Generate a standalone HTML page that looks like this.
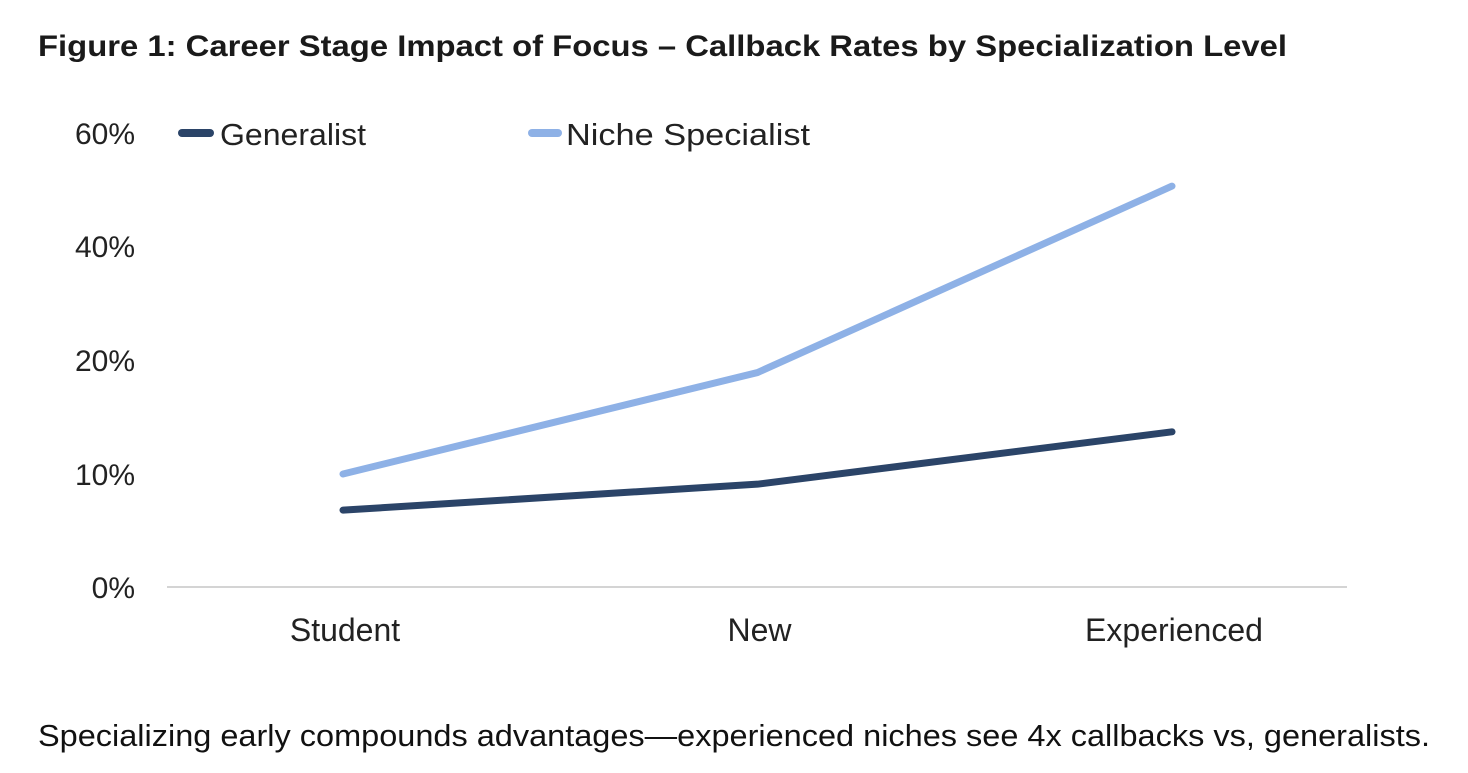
<!DOCTYPE html>
<html><head><meta charset="utf-8"><style>
body{margin:0;background:#fff;width:1468px;height:768px;overflow:hidden;font-family:"Liberation Sans",sans-serif}
</style></head><body>
<svg width="1468" height="768">
<text x="38" y="56" font-size="30" font-weight="bold" fill="#1a1a1a" textLength="1249" lengthAdjust="spacingAndGlyphs">Figure 1: Career Stage Impact of Focus – Callback Rates by Specialization Level</text>
<g>
<line x1="182" y1="133" x2="210" y2="133" stroke="#2b4468" stroke-width="8" stroke-linecap="round"/>
<text x="220" y="145" font-size="31" fill="#222" textLength="146" lengthAdjust="spacingAndGlyphs">Generalist</text>
<line x1="532" y1="133" x2="558" y2="133" stroke="#8eb1e6" stroke-width="8" stroke-linecap="round"/>
<text x="566" y="145" font-size="31" fill="#222" textLength="244" lengthAdjust="spacingAndGlyphs">Niche Specialist</text>
</g>
<g id="yaxis"></g>
<line x1="167" y1="587" x2="1347" y2="587" stroke="#d4d4d4" stroke-width="2"/>
<g id="xaxis"></g>
<g id="series"></g>
<text x="38" y="746" font-size="31" fill="#111" textLength="1392" lengthAdjust="spacingAndGlyphs">Specializing early compounds advantages—experienced niches see 4x callbacks vs, generalists.</text>
</svg>
<script>
const categories=["Student","New","Experienced"];
const generalist=[6.8,9.1,13.7];
const niche=[10,18.9,50.6];
const tickValues=[0,10,20,40,60];
const tickLabels=["0%","10%","20%","40%","60%"];
const NS="http://www.w3.org/2000/svg";
const tickPos=[587,474,360,246,133];
function y(v){
  for(let i=0;i<tickValues.length-1;i++){
    if(v<=tickValues[i+1]||i===tickValues.length-2){
      const t=(v-tickValues[i])/(tickValues[i+1]-tickValues[i]);
      return tickPos[i]+t*(tickPos[i+1]-tickPos[i]);
    }
  }
}
function x(i){return 343+i*(1172-343)/(categories.length-1);}
const ya=document.getElementById('yaxis');
tickValues.forEach((v,i)=>{
  const t=document.createElementNS(NS,'text');
  t.setAttribute('x',135);t.setAttribute('y',y(v)+11);
  t.setAttribute('text-anchor','end');t.setAttribute('font-size','30');t.setAttribute('fill','#222');
  t.textContent=tickLabels[i];
  
  
  ya.appendChild(t);
});
const xa=document.getElementById('xaxis');
categories.forEach((c,i)=>{
  const t=document.createElementNS(NS,'text');
  t.setAttribute('x',x(i)+2);t.setAttribute('y',641);
  t.setAttribute('text-anchor','middle');t.setAttribute('font-size','32');t.setAttribute('fill','#222');
  t.textContent=c;
  
  
  xa.appendChild(t);
});
const sg=document.getElementById('series');
[[niche,'#8eb1e6','niche-line'],[generalist,'#2b4468','generalist-line']].forEach(([d,col,name])=>{
  const p=document.createElementNS(NS,'polyline');
  p.setAttribute('points',d.map((v,i)=>x(i)+','+y(v)).join(' '));
  p.setAttribute('fill','none');p.setAttribute('stroke',col);p.setAttribute('stroke-width','7');
  p.setAttribute('stroke-linecap','round');p.setAttribute('stroke-linejoin','round');
  
  
  sg.appendChild(p);
});
</script>
</body></html>
